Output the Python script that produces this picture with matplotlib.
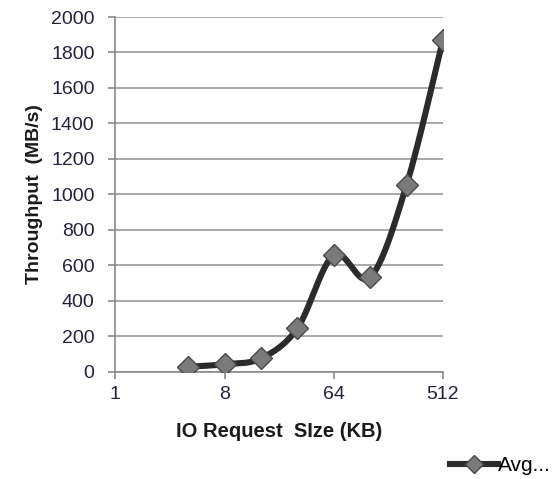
import numpy as np
import matplotlib
matplotlib.use("Agg")
import matplotlib.pyplot as plt
from matplotlib.lines import Line2D

plt.rcParams['font.family'] = ['Liberation Sans', 'DejaVu Sans']

# data
io_sizes_kb = [4, 8, 16, 32, 64, 128, 256, 512]
throughput = [28, 42, 75, 245, 658, 532, 1053, 1871]
x_ticks = [1, 8, 64, 512]
y_ticks = [0, 200, 400, 600, 800, 1000, 1200, 1400, 1600, 1800, 2000]
series_name = "Avg..."

fig = plt.figure(figsize=(5.6, 4.79), dpi=100)
ax = fig.add_axes([0.206, 0.224, 0.585, 0.7405])
ax.set_xscale('log', base=2)

# Excel-like smoothed curve (Catmull-Rom Bezier in log2 space)
u = np.log2(io_sizes_kb)
v = np.array(throughput, dtype=float)
pts = np.column_stack([u, v])
curve = []
n = len(pts)
for i in range(n - 1):
    p0 = pts[i - 1] if i > 0 else pts[i]
    p1 = pts[i]
    p2 = pts[i + 1]
    p3 = pts[i + 2] if i + 2 < n else pts[i + 1]
    c1 = p1 + (p2 - p0) / 6.0
    c2 = p2 - (p3 - p1) / 6.0
    t = np.linspace(0, 1, 40)[:, None]
    seg = ((1 - t) ** 3) * p1 + 3 * ((1 - t) ** 2) * t * c1 + 3 * (1 - t) * t ** 2 * c2 + t ** 3 * p2
    curve.append(seg if i == 0 else seg[1:])
curve = np.vstack(curve)

ax.plot(2 ** curve[:, 0], curve[:, 1], color='#2b2b2b', lw=4.4,
        solid_capstyle='round', zorder=3)
ax.plot(io_sizes_kb, throughput, linestyle='none', marker='D', markersize=11,
        markerfacecolor='#7a7a7a', markeredgecolor='#4a4a4a', markeredgewidth=1.0,
        zorder=4)

ax.set_xlim(1, 512)
ax.set_ylim(0, 2000)
ax.set_xticks(x_ticks)
ax.set_xticklabels([str(t) for t in x_ticks])
ax.xaxis.set_minor_locator(matplotlib.ticker.NullLocator())
ax.set_yticks(y_ticks)
ax.set_yticklabels([str(t) for t in y_ticks])

ax.grid(axis='y', color='#9a9a9a', lw=1.2)
ax.set_axisbelow(True)
for s in ['top', 'right']:
    ax.spines[s].set_visible(False)
for s in ['left', 'bottom']:
    ax.spines[s].set_color('#8a8a8a')
    ax.spines[s].set_linewidth(1.2)

ax.tick_params(axis='both', colors='#8a8a8a', labelcolor='#23233a',
               labelsize=14, length=5, width=1.2, direction='out')
ax.tick_params(axis='y', pad=10)
ax.tick_params(axis='x', pad=5)

ax.set_xlabel('IO Request  SIze (KB)', fontsize=14.5, fontweight='bold',
              color='#1a1a1a', labelpad=14)
ax.set_ylabel('Throughput  (MB/s)', fontsize=14, fontweight='bold',
              color='#1a1a1a', labelpad=6)

handle = Line2D([], [], color='#2b2b2b', lw=4.4, marker='D', markersize=9,
                markerfacecolor='#7a7a7a', markeredgecolor='#4a4a4a')
leg = fig.legend([handle], [series_name], loc='center left',
                 bbox_to_anchor=(0.785, 0.028), frameon=False, fontsize=15,
                 handlelength=2.3, handletextpad=0.0, borderpad=0)

fig.savefig('out.png', dpi=100)
